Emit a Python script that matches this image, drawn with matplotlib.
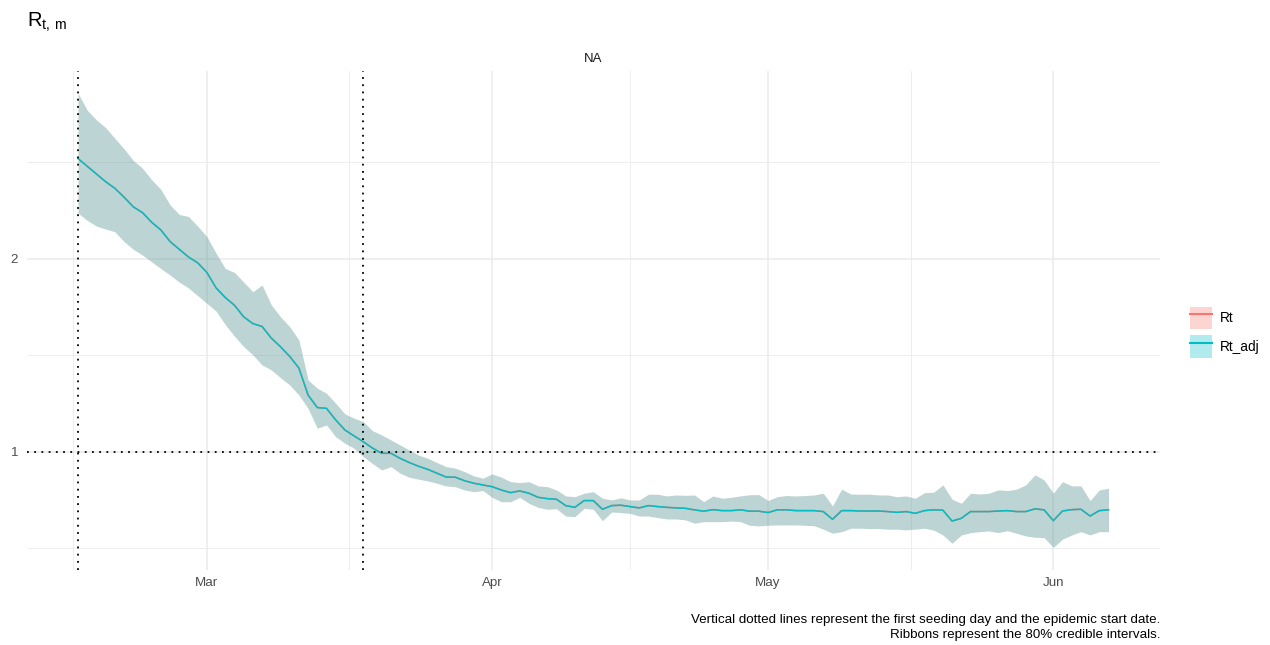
import numpy as np
import pandas as pd
import matplotlib
matplotlib.use("Agg")
import matplotlib.pyplot as plt
import matplotlib.dates as mdates
from matplotlib.patches import Patch
from matplotlib.lines import Line2D

plt.rcParams['font.family'] = ['Liberation Sans', 'DejaVu Sans']

# daily estimates, 2020-02-16 .. 2020-06-07
start_date = "2020-02-16"
seed_day = "2020-02-16"
epidemic_start = "2020-03-18"

rt_median = [
    2.52, 2.48, 2.44, 2.40, 2.366, 2.32, 2.27, 2.24, 2.19, 2.15,
    2.09, 2.05, 2.01, 1.98, 1.93, 1.85, 1.80, 1.76, 1.70, 1.665,
    1.65, 1.59, 1.545, 1.495, 1.435, 1.295, 1.23, 1.226, 1.166, 1.114,
    1.083, 1.053, 1.02, 0.993, 0.993, 0.967, 0.945, 0.926, 0.91, 0.89,
    0.87, 0.869, 0.851, 0.838, 0.829, 0.82, 0.803, 0.789, 0.798, 0.786,
    0.765, 0.758, 0.755, 0.722, 0.713, 0.748, 0.748, 0.703, 0.722, 0.724,
    0.717, 0.71, 0.722, 0.717, 0.713, 0.71, 0.708, 0.70, 0.693, 0.701,
    0.696, 0.696, 0.70, 0.693, 0.693, 0.686, 0.70, 0.70, 0.696, 0.696,
    0.696, 0.691, 0.651, 0.696, 0.696, 0.694, 0.694, 0.694, 0.691, 0.687,
    0.691, 0.682, 0.696, 0.70, 0.698, 0.642, 0.656, 0.691, 0.691, 0.691,
    0.694, 0.696, 0.691, 0.691, 0.705, 0.70, 0.644, 0.694, 0.701, 0.703,
    0.668, 0.696, 0.70,
]
rt_upper = [
    2.858, 2.77, 2.72, 2.68, 2.625, 2.57, 2.51, 2.47, 2.41, 2.36,
    2.28, 2.23, 2.22, 2.17, 2.115, 2.03, 1.95, 1.93, 1.88, 1.83,
    1.865, 1.762, 1.70, 1.649, 1.58, 1.373, 1.33, 1.304, 1.252, 1.197,
    1.175, 1.157, 1.11, 1.088, 1.062, 1.036, 1.01, 0.984, 0.967, 0.945,
    0.924, 0.916, 0.898, 0.876, 0.864, 0.886, 0.869, 0.846, 0.841, 0.846,
    0.824, 0.82, 0.803, 0.772, 0.768, 0.786, 0.794, 0.76, 0.751, 0.762,
    0.751, 0.751, 0.781, 0.781, 0.772, 0.777, 0.775, 0.777, 0.742, 0.772,
    0.76, 0.765, 0.772, 0.778, 0.779, 0.748, 0.768, 0.774, 0.772, 0.774,
    0.777, 0.786, 0.72, 0.807, 0.782, 0.781, 0.781, 0.777, 0.777, 0.768,
    0.772, 0.76, 0.789, 0.791, 0.829, 0.755, 0.734, 0.786, 0.782, 0.786,
    0.803, 0.80, 0.807, 0.829, 0.881, 0.855, 0.786, 0.846, 0.824, 0.824,
    0.748, 0.803, 0.812,
]
rt_lower = [
    2.237, 2.20, 2.17, 2.155, 2.141, 2.09, 2.05, 2.02, 1.985, 1.95,
    1.917, 1.88, 1.85, 1.81, 1.77, 1.73, 1.66, 1.60, 1.546, 1.503,
    1.451, 1.425, 1.385, 1.347, 1.295, 1.226, 1.123, 1.14, 1.079, 1.045,
    1.019, 0.976, 0.94, 0.907, 0.924, 0.89, 0.869, 0.859, 0.85, 0.838,
    0.824, 0.82, 0.803, 0.794, 0.80, 0.765, 0.742, 0.742, 0.765, 0.734,
    0.713, 0.703, 0.706, 0.668, 0.665, 0.708, 0.703, 0.644, 0.689, 0.686,
    0.682, 0.668, 0.668, 0.66, 0.653, 0.653, 0.648, 0.631, 0.639, 0.639,
    0.639, 0.642, 0.639, 0.62, 0.617, 0.62, 0.622, 0.622, 0.622, 0.62,
    0.618, 0.60, 0.579, 0.587, 0.605, 0.605, 0.603, 0.603, 0.60, 0.60,
    0.596, 0.60, 0.605, 0.595, 0.57, 0.527, 0.57, 0.582, 0.587, 0.591,
    0.582, 0.592, 0.579, 0.565, 0.558, 0.556, 0.506, 0.548, 0.57, 0.587,
    0.57, 0.587, 0.587,
]
# Rt and Rt_adj cannot be told apart at this resolution
series = {
    "Rt": (rt_median, rt_lower, rt_upper),
    "Rt_adj": (rt_median, rt_lower, rt_upper),
}
colors = {"Rt": "#F8766D", "Rt_adj": "#00BFC4"}

dates = pd.date_range(start_date, periods=len(rt_median), freq="D")

fig = plt.figure(figsize=(12.7, 6.45), dpi=100)
ax = fig.add_axes([0.0209, 0.1163, 0.8925, 0.7742])

for name, (med, lo, hi) in series.items():
    ax.fill_between(dates, lo, hi, color=colors[name], alpha=0.25, lw=0)
for name, (med, lo, hi) in series.items():
    ax.plot(dates, med, color=colors[name], lw=1.1)

ax.axvline(pd.Timestamp(seed_day), color="black", ls=(0, (1, 3)), lw=1.3)
ax.axvline(pd.Timestamp(epidemic_start), color="black", ls=(0, (1, 3)), lw=1.3)
ax.axhline(1, color="black", ls=(0, (1, 3)), lw=1.3)

month_starts = pd.date_range("2020-02-01", "2020-07-01", freq="MS")
major = [d for d in month_starts if dates[0] <= d <= dates[-1]]
ax.set_xticks(major)
ax.set_xticklabels([d.strftime("%b") for d in major])
ms = mdates.date2num(month_starts)
ax.set_xticks((ms[:-1] + ms[1:]) / 2, minor=True)
ax.set_yticks([1, 2])
ax.set_yticklabels(["1", "2"])
ax.set_yticks([0.5, 1.5, 2.5], minor=True)

# ggplot-like 5% expansion (after ticks, so they don't widen the view)
x0 = mdates.date2num(dates[0])
x1 = mdates.date2num(dates[-1])
pad = (x1 - x0) * 0.05
ax.set_xlim(x0 - pad, x1 + pad)
ymin = min(rt_lower)
ymax = max(rt_upper)
ypad = (ymax - ymin) * 0.05
ax.set_ylim(ymin - ypad, ymax + ypad)

ax.grid(which="major", color="#EBEBEB", lw=1.1)
ax.grid(which="minor", color="#EBEBEB", lw=0.6)
ax.set_axisbelow(True)
for s in ax.spines.values():
    s.set_visible(False)
ax.tick_params(which="both", length=0, labelsize=9.6, labelcolor="#4D4D4D")
ax.tick_params(axis="x", pad=5)
ax.tick_params(axis="y", pad=6)

fig.text(0.0213, 0.966, r"$\mathregular{R_{t,\,m}}$", fontsize=14.5, va="center", ha="left")
fig.text(0.4671, 0.9085, "NA", fontsize=9.5, color="#1A1A1A", ha="center", va="center")

handles = [(Patch(facecolor=colors[n], alpha=0.3, lw=0),
            Line2D([], [], color=colors[n], lw=1.5)) for n in series]
fig.legend(handles, list(series.keys()), loc="center left",
           bbox_to_anchor=(0.927, 0.485), frameon=False, fontsize=9.8,
           handlelength=1.65, handleheight=2.2, handletextpad=0.6,
           labelspacing=0.4)

fig.text(0.9134, 0.0275,
         "Vertical dotted lines represent the first seeding day and the epidemic start date.\n"
         "Ribbons represent the 80% credible intervals.",
         fontsize=9.6, ha="right", va="center", multialignment="right", linespacing=1.35)

fig.savefig("out.png", dpi=100)
